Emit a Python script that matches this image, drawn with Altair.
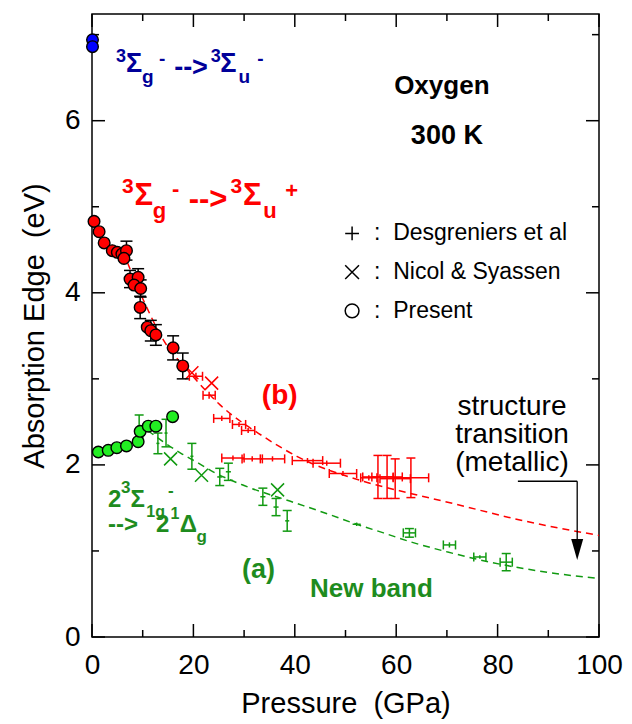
import altair as alt
import pandas as pd

# ---------------- data ----------------
# Present work (circles)
blue_P = [0.1, 0.1]
blue_E = [6.94, 6.86]

red_P = [0.4, 1.4, 2.4, 4.0, 5.0, 5.9, 6.8, 6.3, 7.5, 9.1, 8.3, 9.6, 9.5, 10.9, 11.6, 12.6, 16.0, 17.9]
red_E = [4.83, 4.71, 4.58, 4.49, 4.47, 4.45, 4.49, 4.40, 4.16, 4.18, 4.09, 4.05, 3.83, 3.60, 3.56, 3.51, 3.36, 3.15]
red_dE = [0, 0, 0, 0, 0, 0, 0.11, 0, 0.10, 0.10, 0, 0.10, 0.13, 0, 0.12, 0.12, 0.14, 0.15]

green_P = [1.25, 3.2, 4.9, 6.8, 9.1, 9.5, 11.1, 12.6, 15.9]
green_E = [2.15, 2.17, 2.20, 2.22, 2.27, 2.39, 2.45, 2.45, 2.56]

# Desgreniers et al (+ with error bars)
desR_P = [20.5, 23.1, 25.6, 29.0, 30.8, 27.8, 31.6, 35.6, 42.5, 46.3, 49.5, 54.6, 56.4, 58.2, 59.8, 62.9]
desR_E = [3.03, 2.81, 2.54, 2.47, 2.40, 2.08, 2.07, 2.07, 2.05, 2.02, 1.90, 1.85, 1.86, 1.86, 1.84, 1.85]
desR_dP = [1.3, 1.2, 1.6, 1.3, 1.3, 2.2, 2.0, 2.4, 3.0, 2.7, 2.7, 1.6, 3.0, 3.0, 3.0, 3.5]
desR_dE = [0.04, 0.04, 0.03, 0.03, 0.03, 0.03, 0.03, 0.03, 0.03, 0.03, 0.03, 0.03, 0.25, 0.25, 0.23, 0.23]

desG_P = [9.3, 13.0, 14.6, 19.7, 25.2, 26.9, 33.7, 36.3, 38.5, 52.2, 62.6, 70.5, 76.5, 81.7]
desG_E = [2.45, 2.25, 2.37, 2.10, 1.86, 1.92, 1.63, 1.51, 1.35, 1.31, 1.21, 1.07, 0.93, 0.87]
desG_dP = [0.3, 0.3, 0.3, 0.3, 0.5, 0.5, 0.5, 0.5, 0.4, 0.8, 1.2, 1.2, 1.2, 1.2]
desG_dE = [0.13, 0.12, 0.16, 0.15, 0.10, 0.10, 0.10, 0.10, 0.12, 0.02, 0.05, 0.03, 0.02, 0.10]

# Nicol & Syassen (x)
nicR_P = [19.7, 23.6]
nicR_E = [3.07, 2.95]
nicG_P = [15.5, 21.6, 36.6]
nicG_E = [2.07, 1.88, 1.71]

# dashed guide curves
fitR_P = [7.0, 10.1, 14.1, 19.3, 25.2, 33.8, 40.4, 53.5, 62.7, 70.6, 84.4, 100]
fitR_E = [4.35, 3.92, 3.45, 3.07, 2.70, 2.33, 2.10, 1.81, 1.67, 1.56, 1.36, 1.18]
fitG_P = [11.0, 14.0, 17.4, 21.0, 23.9, 30.0, 39.0, 47.0, 52.2, 57.5, 62.6, 70.0, 81.0, 90.0, 100]
fitG_E = [2.40, 2.27, 2.14, 2.02, 1.92, 1.76, 1.58, 1.42, 1.31, 1.21, 1.11, 0.99, 0.84, 0.75, 0.68]

x_major = [0, 20, 40, 60, 80, 100]
x_minor = [10, 30, 50, 70, 90]
y_major = [0, 2, 4, 6]
y_minor = [1, 3, 5, 7]

RED = "#ff0000"
GREENM = "#119a11"
GREENT = "#1e8c1e"
GREENF = "#22ee22"
BLUE = "#0000ff"
BLUET = "#000099"
FONT = "Liberation Sans"
NB = "\u00a0"

# ---------------- scales / helpers ----------------
xs = alt.Scale(domain=[0, 100], nice=False, zero=False)
ys = alt.Scale(domain=[0, 7.24], nice=False, zero=False)
xaxis = alt.Axis(title="Pressure" + NB + NB + "(GPa)", values=x_major, ticks=False, domain=False, grid=False,
                 labelFontSize=28, labelPadding=14, labelFlush=False, titleFontSize=29,
                 titlePadding=10, titleFontWeight="normal", labelColor="black", titleColor="black")
yaxis = alt.Axis(title="Absorption Edge" + NB + NB + "(eV)", values=y_major, ticks=False, domain=False,
                 grid=False, labelFontSize=28, labelPadding=12, labelFlush=False, titleFontSize=29,
                 titlePadding=15, titleFontWeight="normal", labelColor="black", titleColor="black")


def X(f):
    return alt.X(f, type="quantitative", scale=xs, axis=xaxis)


def Y(f):
    return alt.Y(f, type="quantitative", scale=ys, axis=yaxis)


layers = []

# frame ticks (inward)
xmaj = pd.DataFrame({"v": x_major})
xmin = pd.DataFrame({"v": x_minor})
ymaj = pd.DataFrame({"v": y_major})
ymin = pd.DataFrame({"v": y_minor})
H = 623
W = 507
tk = dict(color="black", strokeWidth=1.5)
for df, L in [(xmaj, 13), (xmin, 7)]:
    layers.append(alt.Chart(df).mark_rule(**tk).encode(x=X("v"), y=alt.value(H), y2=alt.value(H - L)))
    layers.append(alt.Chart(df).mark_rule(**tk).encode(x=X("v"), y=alt.value(0), y2=alt.value(L)))
for df, L in [(ymaj, 13), (ymin, 7)]:
    layers.append(alt.Chart(df).mark_rule(**tk).encode(y=Y("v"), x=alt.value(0), x2=alt.value(L)))
    layers.append(alt.Chart(df).mark_rule(**tk).encode(y=Y("v"), x=alt.value(W), x2=alt.value(W - L)))

# dashed curves
fitR = pd.DataFrame({"P": fitR_P, "E": fitR_E})
fitG = pd.DataFrame({"P": fitG_P, "E": fitG_E})
for df, c in [(fitR, RED), (fitG, GREENM)]:
    layers.append(alt.Chart(df).mark_line(color=c, strokeDash=[7, 5], strokeWidth=1.5,
                                          interpolate="monotone").encode(x=X("P"), y=Y("E"), order="P:Q"))

# Desgreniers error crosses
des = pd.concat([
    pd.DataFrame({"P": desR_P, "E": desR_E, "dP": desR_dP, "dE": desR_dE, "c": RED}),
    pd.DataFrame({"P": desG_P, "E": desG_E, "dP": desG_dP, "dE": desG_dE, "c": GREENM}),
], ignore_index=True)
des["lo"] = des["E"] - des["dE"]
des["hi"] = des["E"] + des["dE"]
des["Plo"] = des["P"] - des["dP"]
des["Phi"] = des["P"] + des["dP"]
col = alt.Color("c:N", scale=None)
layers.append(alt.Chart(des).mark_rule(strokeWidth=1.5).encode(x=X("P"), y=Y("lo"), y2=alt.Y2("hi"), color=col))
layers.append(alt.Chart(des).mark_rule(strokeWidth=1.5).encode(y=Y("E"), x=X("Plo"), x2=alt.X2("Phi"), color=col))
vc = des[des["dE"] >= 0.05]
hc = des[des["dP"] >= 1.0]
for f in ["lo", "hi"]:
    layers.append(alt.Chart(vc).mark_point(shape="M-1,0L1,0", size=81, filled=False, strokeWidth=1.5, opacity=1)
                  .encode(x=X("P"), y=Y(f), stroke=alt.Stroke("c:N", scale=None)))
for f in ["Plo", "Phi"]:
    layers.append(alt.Chart(hc).mark_point(shape="M0,-1L0,1", size=81, filled=False, strokeWidth=1.5, opacity=1)
                  .encode(x=X(f), y=Y("E"), stroke=alt.Stroke("c:N", scale=None)))

# Nicol & Syassen crosses
nic = pd.concat([
    pd.DataFrame({"P": nicR_P, "E": nicR_E, "c": RED}),
    pd.DataFrame({"P": nicG_P, "E": nicG_E, "c": GREENM}),
], ignore_index=True)
layers.append(alt.Chart(nic).mark_point(shape="M-1,-1L1,1M-1,1L1,-1", size=169, filled=False,
                                        strokeWidth=1.5, opacity=1)
              .encode(x=X("P"), y=Y("E"), stroke=alt.Stroke("c:N", scale=None)))

# black error bars of present data
pres = pd.DataFrame({"P": red_P, "E": red_E, "dE": red_dE})
pe = pres[pres["dE"] > 0].copy()
pe["lo"] = pe["E"] - pe["dE"]
pe["hi"] = pe["E"] + pe["dE"]
layers.append(alt.Chart(pe).mark_rule(color="black", strokeWidth=1.5).encode(x=X("P"), y=Y("lo"), y2=alt.Y2("hi")))
for f in ["lo", "hi"]:
    layers.append(alt.Chart(pe).mark_point(shape="M-1,0L1,0", size=144, filled=False, color="black",
                                           strokeWidth=1.5, opacity=1).encode(x=X("P"), y=Y(f)))

# present circles
circ = pd.concat([
    pd.DataFrame({"P": green_P, "E": green_E, "c": GREENF}),
    pd.DataFrame({"P": red_P, "E": red_E, "c": RED}),
    pd.DataFrame({"P": blue_P, "E": blue_E, "c": BLUE}),
], ignore_index=True)
layers.append(alt.Chart(circ).mark_point(shape="circle", size=135, filled=True, stroke="black",
                                         strokeWidth=1.4, opacity=1)
              .encode(x=X("P"), y=Y("E"), fill=alt.Fill("c:N", scale=None)))

# arrow for structure transition
arr_h = pd.DataFrame({"P": [84.0], "P2": [95.7], "E": [1.81]})
arr_v = pd.DataFrame({"P": [95.7], "E": [1.81], "E2": [1.13]})
arr_t = pd.DataFrame({"P": [95.7], "E": [1.017]})
layers.append(alt.Chart(arr_h).mark_rule(color="black", strokeWidth=1.3).encode(x=X("P"), x2=alt.X2("P2"), y=Y("E")))
layers.append(alt.Chart(arr_v).mark_rule(color="black", strokeWidth=1.3).encode(x=X("P"), y=Y("E"), y2=alt.Y2("E2")))
layers.append(alt.Chart(arr_t).mark_point(shape="M-0.57,-1L0.57,-1L0,1Z", size=441, filled=True,
                                          color="black", opacity=1).encode(x=X("P"), y=Y("E")))

# legend glyphs
leg = pd.DataFrame({"P": [51.3, 51.3, 51.3], "E": [4.69, 4.24, 3.79],
                    "s": ["M-1,0L1,0M0,-1L0,1", "M-1,-1L1,1M-1,1L1,-1", "circle"]})
layers.append(alt.Chart(leg).mark_point(filled=False, color="black", strokeWidth=1.5, size=190, opacity=1)
              .encode(x=X("P"), y=Y("E"), shape=alt.Shape("s:N", scale=None)))
leg_txt = pd.DataFrame({"t": [":", ":", ":", "Desgreniers et al", "Nicol & Syassen", "Present"],
                        "P": [55.6, 55.6, 55.6, 59.4, 59.4, 59.4],
                        "E": [4.69, 4.24, 3.79, 4.69, 4.24, 3.79]})
layers.append(alt.Chart(leg_txt).mark_text(align="left", baseline="middle", font=FONT, fontSize=23,
                                           color="black").encode(x=X("P"), y=Y("E"), text="t:N"))

# bold annotation pieces (left aligned, alphabetic baseline)
bold = pd.DataFrame([
    ("3", 4.73, 6.682, 18, BLUET), ("Σ", 6.71, 6.566, 27, BLUET), ("g", 9.86, 6.438, 19, BLUET),
    ("-", 13.2, 6.647, 19, BLUET), ("-->", 16.2, 6.524, 27, BLUET), ("3", 23.4, 6.682, 18, BLUET),
    ("Σ", 25.3, 6.566, 27, BLUET), ("u", 28.9, 6.438, 19, BLUET), ("-", 32.6, 6.647, 19, BLUET),
    ("3", 5.92, 5.154, 21, RED), ("Σ", 8.4, 5.02, 31, RED), ("g", 12.0, 4.874, 22, RED),
    ("-", 15.8, 5.12, 22, RED), ("-->", 19.07, 4.976, 31, RED), ("3", 27.3, 5.154, 21, RED),
    ("Σ", 29.8, 5.02, 31, RED), ("u", 33.8, 4.874, 22, RED), ("+", 38.1, 5.10, 22, RED),
    ("(b)", 33.5, 2.708, 28, RED),
    ("2", 3.16, 1.511, 24, GREENT), ("3", 5.72, 1.673, 17, GREENT), ("Σ", 7.6, 1.511, 24, GREENT),
    ("1g", 10.7, 1.39, 16, GREENT), ("-", 15.0, 1.64, 17, GREENT),
    ("-->", 3.16, 1.22, 24, GREENT), ("2", 12.6, 1.22, 24, GREENT), ("1", 15.5, 1.37, 16, GREENT),
    ("Δ", 17.3, 1.22, 24, GREENT), ("g", 20.6, 1.104, 17, GREENT),
    ("(a)", 29.6, 0.686, 27, GREENT), ("New band", 43.0, 0.465, 26, GREENT),
], columns=["t", "P", "E", "s", "c"])
layers.append(alt.Chart(bold).mark_text(align="left", baseline="alphabetic", font=FONT, fontWeight="bold")
              .encode(x=X("P"), y=Y("E"), text="t:N", size=alt.Size("s:Q", scale=None),
                      color=alt.Color("c:N", scale=None)))

titles = pd.DataFrame([("Oxygen", 69.0, 6.31, 26), ("300 K", 70.0, 5.729, 27)], columns=["t", "P", "E", "s"])
layers.append(alt.Chart(titles).mark_text(align="center", baseline="alphabetic", font=FONT, fontWeight="bold",
                                          color="black")
              .encode(x=X("P"), y=Y("E"), text="t:N", size=alt.Size("s:Q", scale=None)))

struct = pd.DataFrame({"t": ["structure", "transition", "(metallic)"], "P": [82.84] * 3,
                       "E": [2.58, 2.254, 1.929]})
layers.append(alt.Chart(struct).mark_text(align="center", baseline="alphabetic", font=FONT, fontSize=28,
                                          color="black").encode(x=X("P"), y=Y("E"), text="t:N"))

chart = alt.layer(*layers).properties(
    width=W, height=H,
    autosize=alt.AutoSizeParams(type="none"),
    padding={"left": 84, "top": 6, "right": 25, "bottom": 87},
).configure(font=FONT).configure_view(stroke="black", strokeWidth=1.5)

chart.save("out.html", embed_options={"renderer": "svg", "actions": False})
